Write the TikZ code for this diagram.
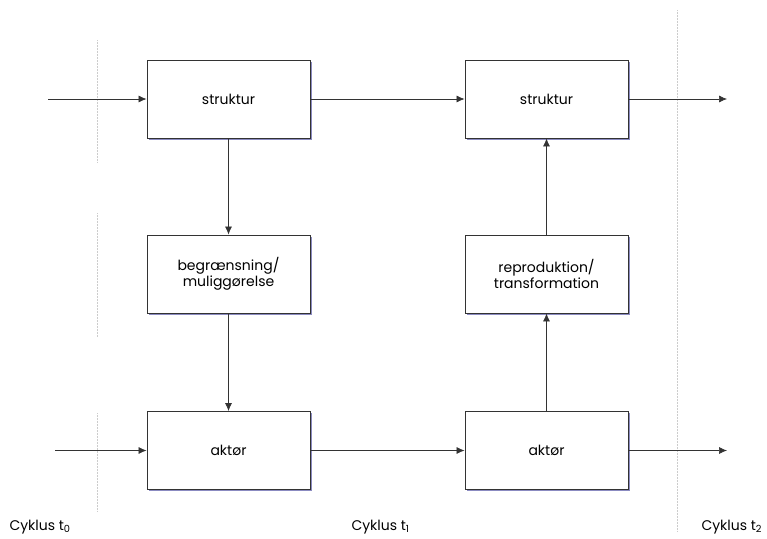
\documentclass[tikz,border=0pt]{standalone}
\usepackage{fontspec}
\setmainfont{Poppins}
\usepackage{tikz}
\usetikzlibrary{arrows.meta,shadows}

\tikzset{
	boks/.style={draw=black!80, fill=white, line width=0.8pt, minimum width=163pt, minimum height=78pt,
		align=center, font=\fontsize{14}{16.5}\selectfont,
		drop shadow={shadow xshift=1.6pt, shadow yshift=-1.6pt, fill=blue!30!gray!70, opacity=1}},
	pil/.style={draw=black!80, line width=0.7pt, -{Latex[length=8pt,width=7pt]}},
	skille/.style={draw=black!20, line width=0.5pt, densely dotted},
	cyklus/.style={anchor=west, font=\fontsize{14}{16}\selectfont}
}

\begin{document}
\begin{tikzpicture}[x=1pt,y=-1pt]
		\useasboundingbox (0, 0) rectangle (767, 538);

		% skillelinjer mellem cyklerne
		\begin{scope}[skille]
			\draw (97, 40) -- (97, 163);
			\draw (97, 213) -- (97, 337);
			\draw (97, 413) -- (97, 512);
			\draw (677, 10) -- (677, 532);
		\end{scope}

		% kasser
		\node[boks] (struktur0) at (228.5, 99)  {struktur};
		\node[boks] (begr)      at (228.5, 274) {begrænsning/\\muliggørelse};
		\node[boks] (aktor0)    at (228.5, 450.5) {aktør};

		\node[boks] (struktur1) at (546.5, 99)  {struktur};
		\node[boks] (repro)     at (546.5, 274) {reproduktion/\\transformation};
		\node[boks] (aktor1)    at (546.5, 450.5) {aktør};

		\coordinate (indS) at (48, 99);
		\coordinate (indA) at (55, 450.5);
		\coordinate (udS)  at (727, 99);
		\coordinate (udA)  at (727, 450.5);

		% pile
		\begin{scope}[pil]
			\draw (indS) -- (struktur0);
			\draw (struktur0) -- (struktur1);
			\draw (struktur1) -- (udS);

			\draw (indA) -- (aktor0);
			\draw (aktor0) -- (aktor1);
			\draw (aktor1) -- (udA);

			\draw (struktur0) -- (begr);
			\draw (begr) -- (aktor0);
			\draw (aktor1) -- (repro);
			\draw (repro) -- (struktur1);
		\end{scope}

		% cykler
		\node[cyklus] (cyk0) at (6, 527)   {Cyklus t\textsubscript{0}};
		\node[cyklus] (cyk1) at (348, 527) {Cyklus t\textsubscript{1}};
		\node[cyklus] (cyk2) at (698, 527) {Cyklus t\textsubscript{2}};
	\end{tikzpicture}
\end{document}
